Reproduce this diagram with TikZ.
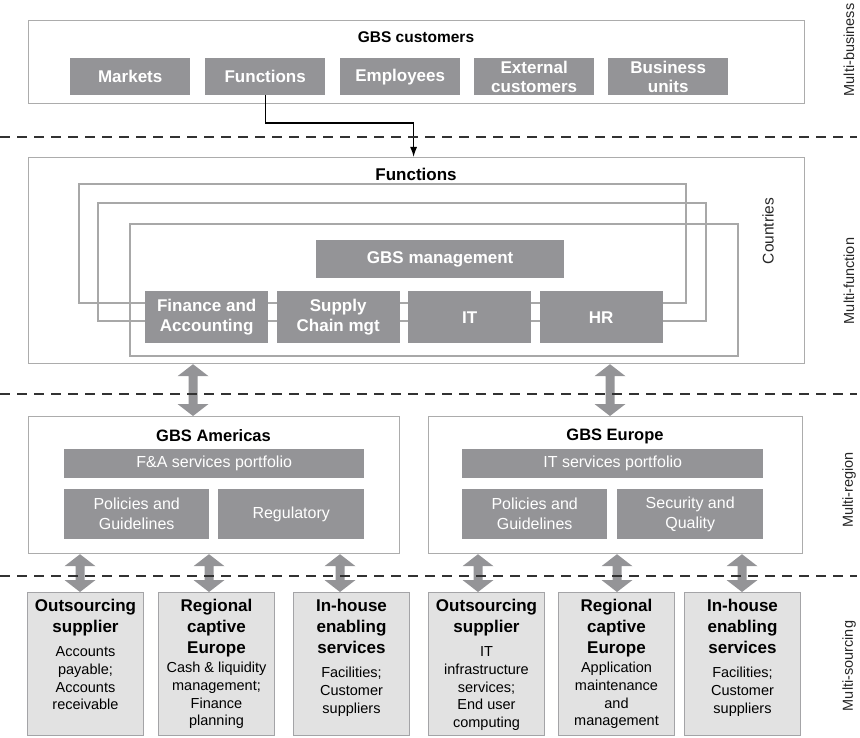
\documentclass[tikz,border=0pt]{standalone}
\usepackage{fontspec}
\setmainfont{Liberation Sans}
\usetikzlibrary{arrows.meta,calc}
\definecolor{boxgray}{RGB}{148,148,151}
\definecolor{lightbox}{RGB}{226,226,226}
\definecolor{outline}{RGB}{172,172,172}
\definecolor{nestline}{RGB}{168,168,168}
\definecolor{dashc}{RGB}{50,50,50}
\newcommand\BoxTitle[1]{{\fontsize{17}{21}\selectfont\bfseries #1}}
\newcommand\DblArr[3]{%
  \fill[boxgray] let \p1=(#2.south), \p2=(#3.north) in
  (#1pt,\y1) -- ++(15.5pt,-12pt) -- ++(-11pt,0pt) -- (#1pt+4.5pt,\y2+12pt)
  -- ++(11pt,0pt) -- (#1pt,\y2) -- ++(-15.5pt,12pt) -- ++(11pt,0pt)
  -- (#1pt-4.5pt,\y1-12pt) -- ++(-11pt,0pt) -- cycle;}
\tikzset{
  outerbox/.style={draw=outline, line width=1.2pt, anchor=north west, inner sep=0pt},
  gbox/.style={fill=boxgray, text=white, anchor=north west, inner sep=0pt, align=center,
    font=\fontsize{17}{19.5}\selectfont\bfseries},
  rbox/.style={fill=boxgray, text=white, anchor=north west, inner sep=0pt, align=center,
    font=\fontsize{16}{20}\selectfont},
  sbox/.style={fill=lightbox, draw=boxgray!85, line width=1pt, anchor=north west, inner sep=0pt,
    minimum width=116pt, minimum height=143pt},
  stext/.style={anchor=north, inner sep=0pt, align=center, font=\fontsize{14.5}{17.8}\selectfont},
  ttl/.style={inner sep=0pt, font=\fontsize{16.5}{19}\selectfont\bfseries},
  nest/.style={draw=nestline, line width=2.4pt},
  sep/.style={draw=dashc, line width=2pt, dash pattern=on 10pt off 7pt},
  conn/.style={draw=black, line width=1.3pt, -{Latex[length=10pt,width=7pt]}},
  side/.style={inner sep=0pt, rotate=90, font=\fontsize{14.5}{17}\selectfont, text=black!85},
}
\begin{document}
\begin{tikzpicture}[x=1pt,y=-1pt]
\useasboundingbox (0,0) rectangle (860,738);

% ---------- GBS customers ----------
\node[outerbox, minimum width=776pt, minimum height=83pt] (cust) at (28,20) {};
\node[ttl, font=\fontsize{15.5}{18}\selectfont\bfseries] (custt) at (416,37) {GBS customers};
\node[gbox, minimum width=120pt, minimum height=37pt] (cmark) at (70,58) {Markets};
\node[gbox, minimum width=120pt, minimum height=37pt] (cfunc) at (205,58) {Functions};
\node[gbox, minimum width=120pt, minimum height=37pt] (cempl) at (340,58) {Employees};
\node[gbox, minimum width=120pt, minimum height=37pt] (cext) at (474,58) {External\\customers};
\node[gbox, minimum width=120pt, minimum height=37pt] (cbus) at (608,58) {Business\\units};

% ---------- Functions ----------
\node[outerbox, minimum width=776pt, minimum height=206pt] (funcbox) at (28,157) {};
\node[ttl, font=\fontsize{17}{19}\selectfont\bfseries] (funct) at (416,174) {Functions};
\draw[nest] (79,184) rectangle (686,303);
\draw[nest] (98,203) rectangle (706,321);
\draw[nest] (130,224) rectangle (738,356);
\node[gbox, minimum width=248pt, minimum height=38pt] (mgmt) at (316,240) {GBS management};
\node[gbox, minimum width=123pt, minimum height=52pt] (fa) at (145,291) {Finance and\\Accounting};
\node[gbox, minimum width=123pt, minimum height=52pt] (sc) at (276.5,291) {Supply\\Chain mgt};
\node[gbox, minimum width=123pt, minimum height=52pt] (it) at (408,291) {IT};
\node[gbox, minimum width=123pt, minimum height=52pt] (hr) at (539.5,291) {HR};
\node[side, font=\fontsize{15.5}{18}\selectfont] (countries) at (768,231) {Countries};

\draw[conn] (cfunc.south) |- ($(funcbox.north)+(-3,-34)$) -- ($(funcbox.north)+(-3,0)$);

% ---------- Regions ----------
\node[outerbox, minimum width=371pt, minimum height=137pt] (amer) at (28,416) {};
\node[ttl] (amert) at (213.5,436) {GBS Americas};
\node[rbox, minimum width=300pt, minimum height=29pt] (faport) at (64,449) {F\&A services portfolio};
\node[rbox, minimum width=145pt, minimum height=50pt] (apol) at (64,489) {Policies and\\Guidelines};
\node[rbox, minimum width=146pt, minimum height=50pt] (areg) at (218,489) {Regulatory};

\node[outerbox, minimum width=374pt, minimum height=137pt] (eur) at (428,416) {};
\node[ttl] (eurt) at (615,436) {GBS Europe};
\node[rbox, minimum width=301pt, minimum height=29pt] (itport) at (462,449) {IT services portfolio};
\node[rbox, minimum width=145pt, minimum height=50pt] (epol) at (462,489) {Policies and\\Guidelines};
\node[rbox, minimum width=146pt, minimum height=50pt] (esec) at (617,489) {Security and\\Quality};

% ---------- Sourcing ----------
\node[sbox] (s1) at (27,592) {};
\node[sbox] (s2) at (158,592) {};
\node[sbox] (s3) at (293,592) {};
\node[sbox] (s4) at (428,592) {};
\node[sbox] (s5) at (558,592) {};
\node[sbox] (s6) at (684,592) {};
\node[stext] (s1t) at ($(s1.north)+(0,7)$) {\BoxTitle{Outsourcing}\\[3.2pt]\BoxTitle{supplier}\\[6.2pt]Accounts\\payable;\\Accounts\\receivable};
\node[stext] (s2t) at ($(s2.north)+(0,7)$) {\BoxTitle{Regional}\\[3.2pt]\BoxTitle{captive}\\[3.2pt]\BoxTitle{Europe}\\[1.2pt]Cash \& liquidity\\management;\\Finance\\planning};
\node[stext] (s3t) at ($(s3.north)+(0,7)$) {\BoxTitle{In-house}\\[3.2pt]\BoxTitle{enabling}\\[3.2pt]\BoxTitle{services}\\[6.2pt]Facilities;\\Customer\\suppliers};
\node[stext] (s4t) at ($(s4.north)+(0,7)$) {\BoxTitle{Outsourcing}\\[3.2pt]\BoxTitle{supplier}\\[6.2pt]IT\\infrastructure\\services;\\End user\\computing};
\node[stext] (s5t) at ($(s5.north)+(0,7)$) {\BoxTitle{Regional}\\[3.2pt]\BoxTitle{captive}\\[3.2pt]\BoxTitle{Europe}\\[1.2pt]Application\\maintenance\\and\\management};
\node[stext] (s6t) at ($(s6.north)+(0,7)$) {\BoxTitle{In-house}\\[3.2pt]\BoxTitle{enabling}\\[3.2pt]\BoxTitle{services}\\[6.2pt]Facilities;\\Customer\\suppliers};

% ---------- double arrows ----------
\DblArr{193}{funcbox}{amer}
\DblArr{610}{funcbox}{eur}
\DblArr{80}{amer}{s1}
\DblArr{209}{amer}{s2}
\DblArr{340}{amer}{s3}
\DblArr{478}{eur}{s4}
\DblArr{617}{eur}{s5}
\DblArr{742}{eur}{s6}

% ---------- separators ----------
\draw[sep] (0,137) -- (857,137);
\draw[sep] (0,394) -- (857,394);
\draw[sep] (0,576) -- (857,576);

% ---------- side labels ----------
\node[side] (lb1) at (849,50) {Multi-business};
\node[side] (lb2) at (849,281) {Multi-function};
\node[side] (lb3) at (849,490) {Multi-region};
\node[side] (lb4) at (849,666) {Multi-sourcing};
\end{tikzpicture}
\end{document}
